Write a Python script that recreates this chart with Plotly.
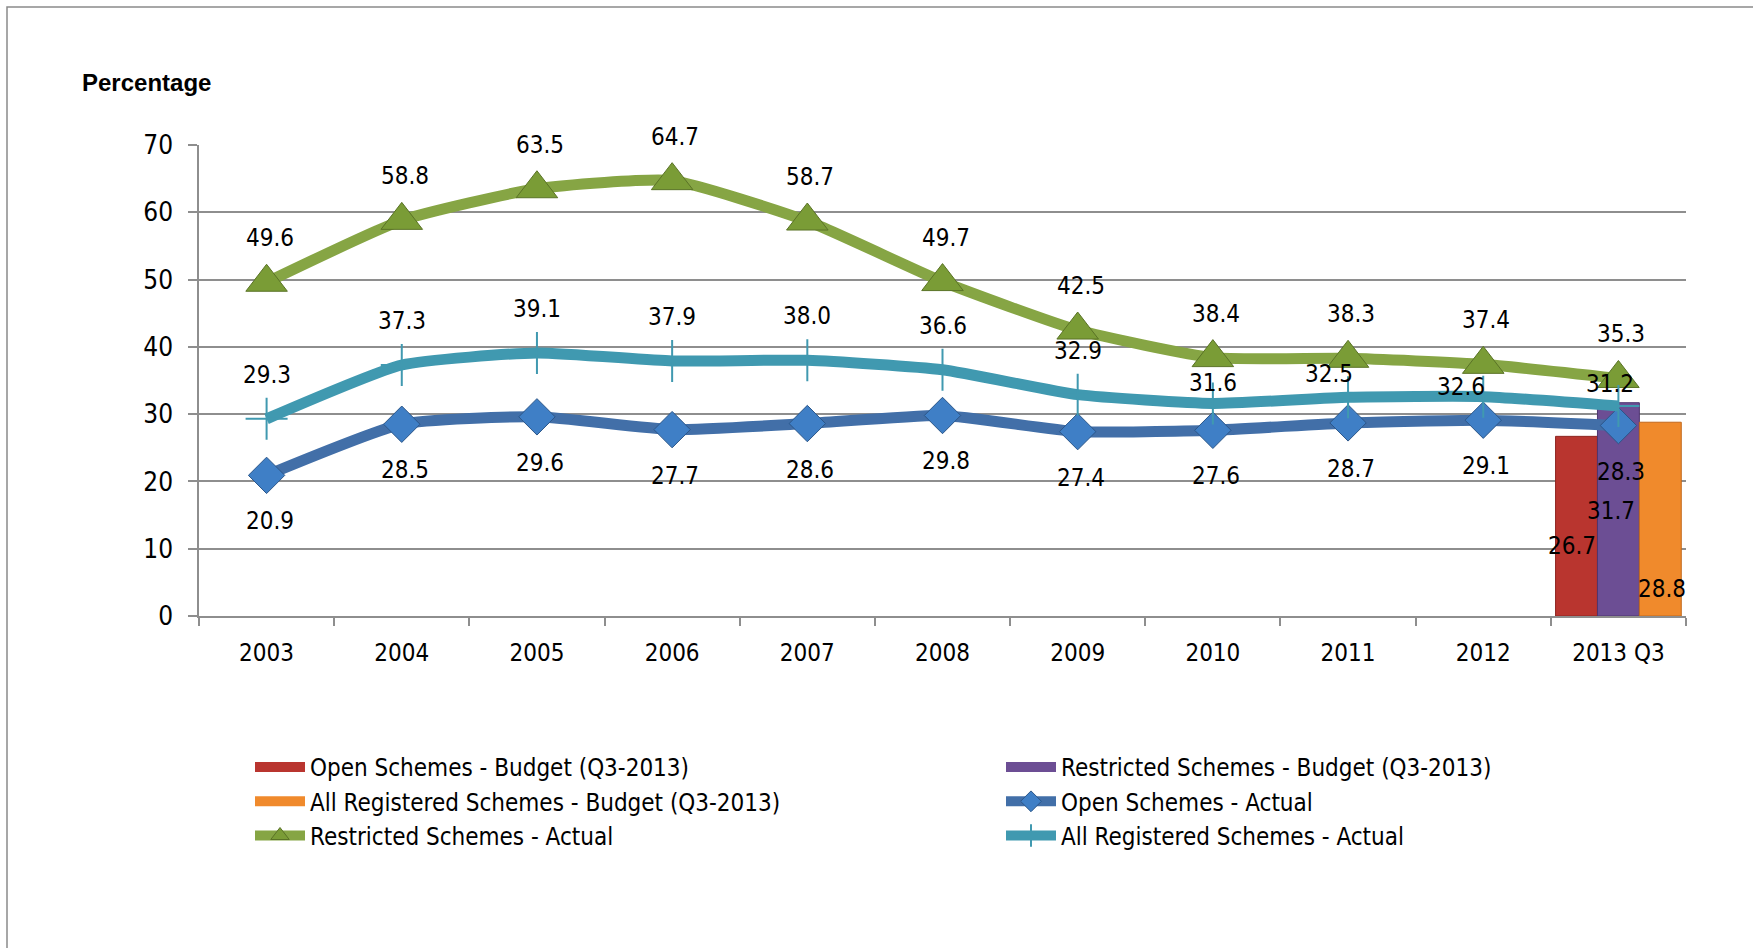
import plotly.graph_objects as go

# ---------------- data ----------------
categories = ["2003", "2004", "2005", "2006", "2007", "2008", "2009", "2010", "2011", "2012", "2013 Q3"]
restricted_actual = [49.6, 58.8, 63.5, 64.7, 58.7, 49.7, 42.5, 38.4, 38.3, 37.4, 35.3]
all_registered_actual = [29.3, 37.3, 39.1, 37.9, 38.0, 36.6, 32.9, 31.6, 32.5, 32.6, 31.2]
open_actual = [20.9, 28.5, 29.6, 27.7, 28.6, 29.8, 27.4, 27.6, 28.7, 29.1, 28.3]

budget_category = ["2013 Q3"]
open_budget = [26.7]
restricted_budget = [31.7]
all_registered_budget = [28.8]

y_ticks = [0, 10, 20, 30, 40, 50, 60, 70]

# ---------------- styles ----------------
FONT = "DejaVu Sans Condensed, Liberation Sans Narrow, Arial Narrow, Liberation Sans, Arial"
BOLD_FONT = "Liberation Sans, Arial"
GRID = "#8E8E8E"
GREEN, TEAL, BLUE = "#86A544", "#4099B0", "#426FA8"
RED, PURPLE, ORANGE = "#B9352F", "#6C4E94", "#F08A2C"

# label offsets (pixels)
green_dy, green_dx = 44, 3
blue_dy = -46
teal_dy = [44, 44, 44, 44, 44, 44, 44, 20, 23, 10, 22]
teal_dx = [0, 0, 0, 0, 0, 0, 0, 0, -19, -22, -8]
bar_dx = [-46, -7, 44]
bar_dy = [-110, -108, -167]

# plot-area pixel geometry
W, H = 1753, 948
L, R, T, B = 199, 1686, 145, 616
pw, ph = R - L, B - T


def px(x):
    return (x - L) / pw


def py(y):
    return (B - y) / ph


fig = go.Figure()

bar_specs = [
    ("Open Schemes - Budget (Q3-2013)", open_budget, RED, "#8E2622", "legend"),
    ("Restricted Schemes - Budget (Q3-2013)", restricted_budget, PURPLE, "#4E3670", "legend2"),
    ("All Registered Schemes - Budget (Q3-2013)", all_registered_budget, ORANGE, "#C2691C", "legend"),
]
for k, (name, vals, col, edge, lg) in enumerate(bar_specs):
    fig.add_trace(go.Bar(
        x=budget_category, y=vals, name=name, legendgroup=f"b{k}", showlegend=False,
        marker=dict(color=col, line=dict(color=edge, width=1)),
    ))
# wide rectangular legend keys for the bars (Excel style)
for k, (name, vals, col, edge, lg) in enumerate(bar_specs):
    fig.add_trace(go.Scatter(
        x=[None], y=[None], name=name, legend=lg, legendgroup=f"b{k}",
        mode="lines", line=dict(color=col, width=14), hoverinfo="skip",
    ))

SMOOTH = 0.5
fig.add_trace(go.Scatter(
    x=categories, y=open_actual, name="Open Schemes - Actual", legend="legend2",
    mode="lines+markers",
    line=dict(color=BLUE, width=11, shape="spline", smoothing=SMOOTH),
    marker=dict(symbol="diamond", size=28, color="#3F7FC6", line=dict(color="#2B5689", width=1)),
))
fig.add_trace(go.Scatter(
    x=categories, y=restricted_actual, name="Restricted Schemes - Actual", legend="legend",
    mode="lines+markers",
    line=dict(color=GREEN, width=11, shape="spline", smoothing=SMOOTH),
    marker=dict(symbol="triangle-up", size=36, color="#7A9C36", line=dict(color="#5A7326", width=1)),
))
fig.add_trace(go.Scatter(
    x=categories, y=all_registered_actual, name="All Registered Schemes - Actual", legend="legend2",
    mode="lines+markers",
    line=dict(color=TEAL, width=11, shape="spline", smoothing=SMOOTH),
    marker=dict(symbol="cross-thin", size=30, color=TEAL, line=dict(color=TEAL, width=2)),
))

ann = []
lab_font = dict(family=FONT, size=24, color="black")
for i, c in enumerate(categories):
    ann.append(dict(x=i, y=restricted_actual[i], text=f"{restricted_actual[i]:.1f}", showarrow=False,
                    xshift=green_dx, yshift=green_dy, font=lab_font))
    ann.append(dict(x=i, y=all_registered_actual[i], text=f"{all_registered_actual[i]:.1f}", showarrow=False,
                    xshift=teal_dx[i], yshift=teal_dy[i], font=lab_font))
    ann.append(dict(x=i, y=open_actual[i], text=f"{open_actual[i]:.1f}", showarrow=False,
                    xshift=green_dx, yshift=blue_dy, font=lab_font))
bar_index = categories.index(budget_category[0])
for j, vals in enumerate([open_budget, restricted_budget, all_registered_budget]):
    ann.append(dict(x=bar_index, y=vals[0], text=f"{vals[0]:.1f}", showarrow=False,
                    xshift=bar_dx[j], yshift=bar_dy[j], font=lab_font))

ann.append(dict(xref="paper", yref="paper", x=px(80), y=py(82), xanchor="left", yanchor="middle",
                text="<b>Percentage</b>", showarrow=False,
                font=dict(family=BOLD_FONT, size=24, color="black")))

leg_font = dict(family=FONT, size=24, color="black")
fig.update_layout(
    width=W, height=H,
    margin=dict(l=L, r=W - R, t=T, b=H - B, autoexpand=False),
    paper_bgcolor="white", plot_bgcolor="white",
    barmode="group", bargap=0.07, bargroupgap=0,
    annotations=ann,
    legend=dict(x=px(250), y=py(745), xanchor="left", yanchor="top", orientation="v",
                font=leg_font, itemwidth=50, bgcolor="rgba(0,0,0,0)", traceorder="normal"),
    legend2=dict(x=px(1001), y=py(745), xanchor="left", yanchor="top", orientation="v",
                 font=leg_font, itemwidth=50, bgcolor="rgba(0,0,0,0)", traceorder="normal"),
    xaxis=dict(type="category", categoryorder="array", categoryarray=categories,
               range=[-0.5, len(categories) - 0.5],
               showline=True, linecolor=GRID, linewidth=1.5,
               ticks="outside", tickson="boundaries", ticklen=8, tickcolor=GRID, tickwidth=1.5,
               tickfont=dict(family=FONT, size=24, color="black"), ticklabelstandoff=14,
               showgrid=False, zeroline=False),
    yaxis=dict(range=[0, 70], tickvals=y_ticks, showgrid=True, gridcolor=GRID, gridwidth=1.5,
               showline=True, linecolor=GRID, linewidth=1.5,
               ticks="outside", ticklen=9, tickcolor=GRID, tickwidth=1.5,
               tickfont=dict(family=FONT, size=26, color="black"), ticklabelstandoff=10,
               zeroline=False),
    shapes=[dict(type="rect", xref="paper", yref="paper",
                 x0=px(7), x1=px(1800), y0=py(7), y1=py(1000),
                 line=dict(color="#8A8A8A", width=1.5), layer="below")],
)

fig.write_html("out.html")
